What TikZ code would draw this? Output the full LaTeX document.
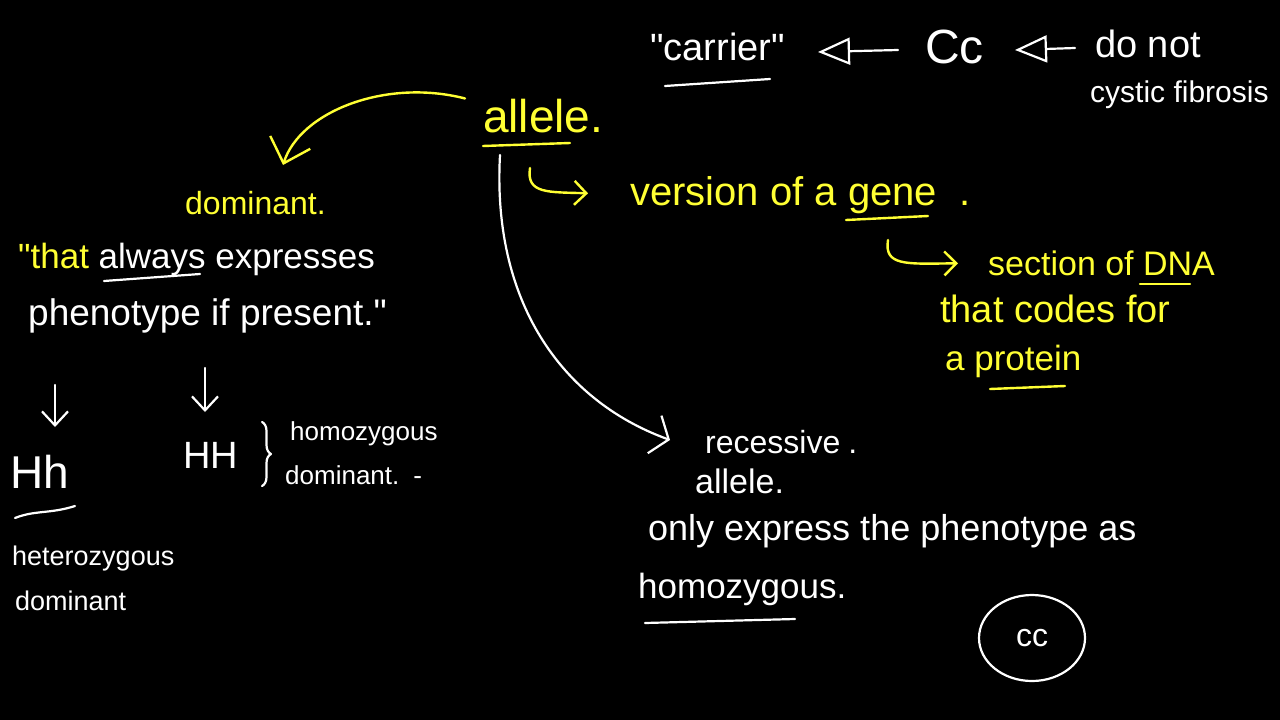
\documentclass[tikz,border=0pt]{standalone}
\usepackage{fontspec}
\setmainfont{Liberation Sans}[Ligatures=TeXOff]
\usetikzlibrary{arrows.meta,shapes.geometric,decorations.pathreplacing}
\definecolor{ylw}{RGB}{255,255,51}
\newcommand\fsz[1]{\fontsize{#1}{#1}\selectfont}
\newcommand\dq{\char34\relax}
\begin{document}
\begin{tikzpicture}[x=1pt,y=-1pt,
  txt/.style={inner sep=0pt, anchor=base west, text=white},
  ytxt/.style={txt, text=ylw},
  wline/.style={draw=white, line width=2.2pt, line cap=round, line join=round},
  yline/.style={draw=ylw, line width=2.4pt, line cap=round, line join=round},
  tri/.style={-{Triangle[open,length=32pt,width=27pt,line width=2.2pt]}}
]
\fill[black] (0,0) rectangle (1280,720);
\useasboundingbox (0,0) rectangle (1280,720);

% ---- top right
\node[txt, font=\fsz{38}] (carrier) at (650,60) {\dq carrier\dq};
\node[txt, font=\fsz{48}] (Cc) at (925,63) {Cc};
\node[txt, font=\fsz{38}] (donot) at (1095,57) {do not};
\node[txt, font=\fsz{30}] (cf) at (1090,102) {cystic fibrosis};
\draw[wline] (665,86) -- (770,79);
\coordinate (t1s) at (898,50); \coordinate (t1e) at (818,52);
\coordinate (t2s) at (1075,48); \coordinate (t2e) at (1015,50);
\draw[wline, tri] (t1s) -- (t1e);
\draw[wline, tri] (t2s) -- (t2e);

% ---- allele
\node[ytxt, font=\fsz{46}] (allele) at (483,132) {allele.};
\draw[yline] (483,146) -- (570,143);
\coordinate (domtip) at (283,165);
\draw[yline, -{Straight Barb[length=22pt,width=42pt,line width=2.4pt]}]
  ([xshift=-18pt]allele.north west) .. controls (385,78) and (300,112) .. (domtip);

% ---- definitions (yellow)
\node[ytxt, font=\fsz{40}] (version) at (630,205) {version of a gene\hspace{22pt}.};
\draw[yline] (846,220) -- (928,216);
\coordinate (h1s) at (530,168);
\draw[yline, -{Straight Barb[length=12pt,width=24pt,line width=2.4pt]}, shorten >=42pt]
  (h1s) .. controls (526,194) and (548,192) .. (version.west);
\node[ytxt, font=\fsz{34}] (section) at (988,275) {section of DNA};
\draw[yline] (1140,284) -- (1190,284);
\coordinate (h2s) at (888,240);
\draw[yline, -{Straight Barb[length=12pt,width=24pt,line width=2.4pt]}, shorten >=30pt]
  (h2s) .. controls (884,266) and (905,264) .. (section.west);
\node[ytxt, font=\fsz{38}] (codes) at (940,322) {that codes for};
\node[ytxt, font=\fsz{35}] (protein) at (945,370) {a protein};
\draw[yline] (990,389) -- (1065,386);

% ---- dominant side
\node[ytxt, font=\fsz{32}] (dominant) at (185,214) {dominant.};
\node[txt, font=\fsz{35}] (always) at (18,268) {\textcolor{ylw}{\dq that} always expresses};
\draw[wline] (104,281) -- (200,274);
\node[txt, font=\fsz{37}] (pheno) at (28,325) {phenotype if present.\dq};

\coordinate (d1s) at (55,385); \coordinate (d1e) at (55,427);
\coordinate (d2s) at (205,368); \coordinate (d2e) at (205,412);
\draw[wline, -{Straight Barb[length=14pt,width=26pt,line width=2.2pt]}] (d1s) -- (d1e);
\draw[wline, -{Straight Barb[length=14pt,width=26pt,line width=2.2pt]}] (d2s) -- (d2e);

\node[txt, font=\fsz{46}] (Hh) at (10,488) {Hh};
\draw[wline] (15,518) .. controls (35,510) and (50,514) .. (75,506);
\node[txt, font=\fsz{27}] (het) at (12,565) {heterozygous};
\node[txt, font=\fsz{27}] (hetd) at (15,610) {dominant};

\node[txt, font=\fsz{38}] (HH) at (183,468) {HH};
\draw[wline, decorate, decoration={brace, amplitude=9pt}] (262,422) -- (262,486);
\node[txt, font=\fsz{26}] (homo) at (290,440) {homozygous};
\node[txt, font=\fsz{26}] (homod) at (285,484) {dominant.\hspace{14pt}-};

% ---- recessive side
\coordinate (rcs) at (500,155);
\coordinate (rctip) at (670,440);
\draw[wline, -{Straight Barb[length=15pt,width=40pt,line width=2.2pt]}]
  (rcs) .. controls (492,300) and (560,400) .. (rctip);
\node[txt, font=\fsz{32}] (recessive) at (705,453) {recessive\hspace{8pt}.};
\node[txt, font=\fsz{34}] (allele2) at (695,493) {allele.};
\node[txt, font=\fsz{36}] (only) at (648,540) {only express the phenotype as};
\node[txt, font=\fsz{35}] (homoz) at (638,598) {homozygous.};
\draw[wline] (645,623) -- (795,619);

\node[draw=white, line width=2.2pt, ellipse, minimum width=106pt, minimum height=86pt,
  text=white, font=\fsz{32}] (cc) at (1032,638) {cc};
\end{tikzpicture}
\end{document}
